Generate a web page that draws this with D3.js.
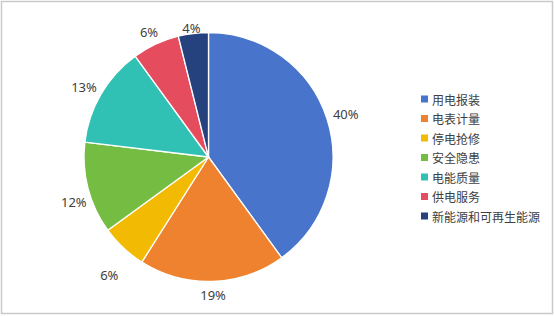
<!DOCTYPE html>
<html>
<head>
<meta charset="utf-8">
<script src="https://cdn.jsdelivr.net/npm/d3@7"></script>
<style>
	body { margin: 0; background: #fff; }
	svg { display: block; }
	text { fill: #404040; }
</style>
</head>
<body>
<svg id="chart" width="554" height="316"></svg>
<script>
// categories and shares (percent)
var categories = ["用电报装", "电表计量", "停电抢修", "安全隐患", "电能质量", "供电服务", "新能源和可再生能源"];
var shares = [40, 19, 6, 11.9, 13.1, 6.1, 3.9];
var shareLabels = ["40%", "19%", "6%", "12%", "13%", "6%", "4%"];
var colours = ["#4874CB", "#EE822F", "#F2BA02", "#75BD42", "#30C0B4", "#E54C5E", "#25427F"];

var width = 554, height = 316;
var cx = 208.5, cy = 157, radius = 124.5;
var plotTop = 21;

// best-fit style nudges for a couple of labels (dx, dy), like the office chart does
var labelNudge = { 2: [-3, 17], 3: [5, 10] };

var svg = d3.select("#chart");

// chart border
svg.append("rect")
	.attr("x", 1.5).attr("y", 1.5)
	.attr("width", width - 3).attr("height", height - 4)
	.attr("fill", "#fff")
	.attr("stroke", "#c9c9c9")
	.attr("stroke-width", 1.5);

var data = categories.map(function(c, i) {
	return { name: c, value: shares[i], label: shareLabels[i], colour: colours[i] };
});

var pie = d3.pie().sort(null).value(function(d) { return d.value; });
var arc = d3.arc().innerRadius(0).outerRadius(radius);

var g = svg.append("g").attr("transform", "translate(" + cx + "," + cy + ")");

var arcs = pie(data);

g.selectAll(".slice")
	.data(arcs)
	.enter().append("path")
	.attr("class", "slice")
	.attr("d", arc)
	.attr("fill", function(d) { return d.data.colour; })
	.attr("stroke", "#fff")
	.attr("stroke-width", 1.3)
	.attr("stroke-linejoin", "round");

// labels outside end: anchor point just off the rim, box pushed outward
g.selectAll(".lbl")
	.data(arcs)
	.enter().append("text")
	.attr("class", "lbl")
	.attr("font-family", "'Noto Sans', 'DejaVu Sans', sans-serif")
	.attr("font-size", 13)
	.attr("text-anchor", "middle")
	.attr("dominant-baseline", "central")
	.text(function(d) { return d.data.label; })
	.each(function(d, i) {
		var a = (d.startAngle + d.endAngle) / 2;
		var s = Math.sin(a), c = Math.cos(a);
		var w = this.getComputedTextLength(), h = 14;
		var r = radius + 7;
		var x = r * s + s * w / 2;
		var y = -r * c - c * h / 2;
		if (labelNudge[i]) { x += labelNudge[i][0]; y += labelNudge[i][1]; }
		// keep inside plot area
		y = Math.max(y, plotTop - cy + h / 2);
		d3.select(this).attr("x", x).attr("y", y);
	});

// legend
var legend = svg.append("g").attr("transform", "translate(421,99)");
var item = legend.selectAll(".item")
	.data(data)
	.enter().append("g")
	.attr("class", "item")
	.attr("transform", function(d, i) { return "translate(0," + (i * 19.5) + ")"; });

item.append("rect")
	.attr("x", 0).attr("y", -3.5)
	.attr("width", 7).attr("height", 7)
	.attr("fill", function(d) { return d.colour; });

item.append("text")
	.attr("x", 11)
	.attr("y", 0)
	.attr("dominant-baseline", "central")
	.attr("font-family", "'Noto Sans CJK SC', sans-serif")
	.attr("font-size", 12)
	.text(function(d) { return d.name; });
</script>
</body>
</html>
